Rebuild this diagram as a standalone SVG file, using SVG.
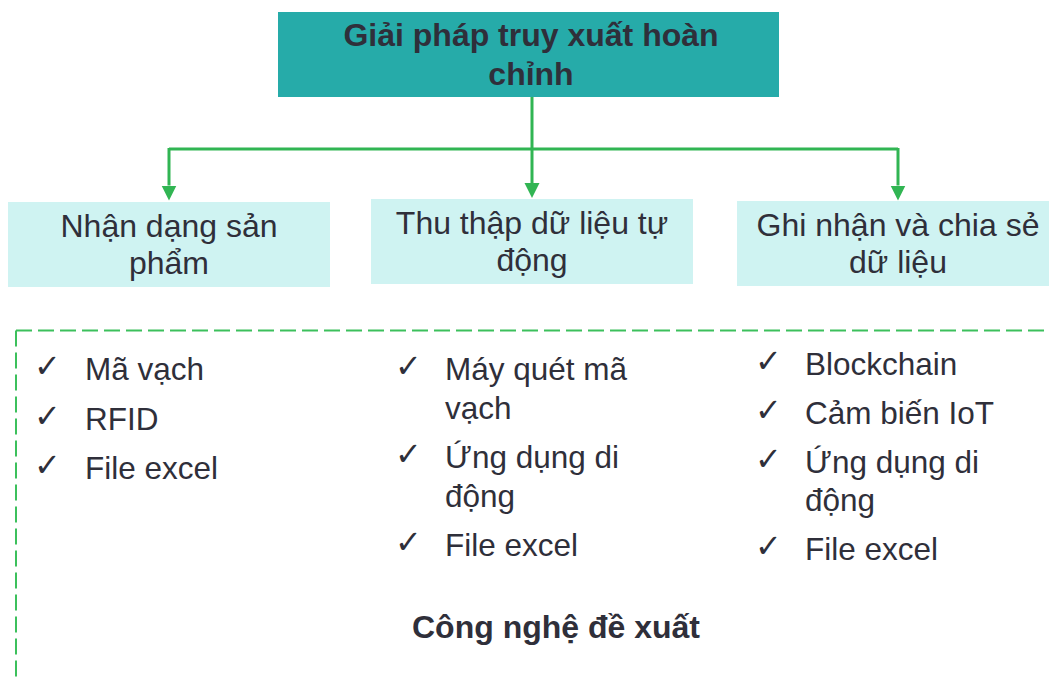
<svg xmlns="http://www.w3.org/2000/svg" width="1049" height="679" viewBox="0 0 1049 679">
  <style>
    .title { font-family: "Liberation Sans", Arial, sans-serif; font-weight: bold; font-size: 32px; fill: #2F2F3A; text-anchor: middle; }
    .lbl { font-family: "Liberation Sans", Arial, sans-serif; font-size: 32px; fill: #2F2F3A; text-anchor: middle; }
    .item { font-family: "Liberation Sans", Arial, sans-serif; font-size: 31.5px; fill: #2F2F3A; }
    .chk { font-family: "DejaVu Sans", sans-serif; font-size: 32px; fill: #2F2F3A; }
    .sub { fill: #CFF3F2; }
    .conn { fill: none; stroke: #31B553; stroke-width: 3; }
    .dash { fill: none; stroke: #3CC05C; stroke-width: 2; stroke-dasharray: 16 6; }
  </style>
  <defs>
    <marker id="ah" markerUnits="userSpaceOnUse" markerWidth="16" markerHeight="16" refX="0" refY="7.5" orient="auto">
      <path d="M0,0 L15,7.5 L0,15 z" fill="#31B553"/>
    </marker>
  </defs>

  <rect width="1049" height="679" fill="#FFFFFF"/>

  <g id="connectors">
    <path class="conn" d="M532,97 V183" marker-end="url(#ah)"/>
    <path class="conn" d="M169,149 H898"/>
    <path class="conn" d="M169,148 V185.5" marker-end="url(#ah)"/>
    <path class="conn" d="M898,148 V185.5" marker-end="url(#ah)"/>
  </g>

  <g id="root">
    <rect x="278" y="12" width="501" height="85" fill="#26ABA9"/>
    <text class="title" x="531" y="46">Giải pháp truy xuất hoàn</text>
    <text class="title" x="531" y="85">chỉnh</text>
  </g>

  <g id="node-nhan-dang">
    <rect class="sub" x="8" y="202" width="322" height="85"/>
    <text class="lbl" x="169" y="237">Nhận dạng sản</text>
    <text class="lbl" x="169" y="274">phẩm</text>
  </g>

  <g id="node-thu-thap">
    <rect class="sub" x="371" y="199" width="322" height="85"/>
    <text class="lbl" x="532" y="234">Thu thập dữ liệu tự</text>
    <text class="lbl" x="532" y="271">động</text>
  </g>

  <g id="node-ghi-nhan">
    <rect class="sub" x="737" y="201" width="322" height="85"/>
    <text class="lbl" x="898" y="236">Ghi nhận và chia sẻ</text>
    <text class="lbl" x="898" y="273">dữ liệu</text>
  </g>

  <g id="tech-frame">
    <path class="dash" d="M16,330.5 H1049"/>
    <path class="dash" d="M16,330.5 V679"/>
  </g>

  <g id="list-left">
    <text class="chk" x="34" y="377">✓</text>
    <text class="item" x="85" y="380">Mã vạch</text>
    <text class="chk" x="34" y="426.5">✓</text>
    <text class="item" x="85" y="429.5">RFID</text>
    <text class="chk" x="34" y="476">✓</text>
    <text class="item" x="85" y="479">File excel</text>
  </g>

  <g id="list-middle">
    <text class="chk" x="395" y="377">✓</text>
    <text class="item" x="445" y="380">Máy quét mã</text>
    <text class="item" x="445" y="419">vạch</text>
    <text class="chk" x="395" y="465">✓</text>
    <text class="item" x="445" y="468">Ứng dụng di</text>
    <text class="item" x="445" y="507">động</text>
    <text class="chk" x="395" y="553">✓</text>
    <text class="item" x="445" y="556">File excel</text>
  </g>

  <g id="list-right">
    <text class="chk" x="755" y="372">✓</text>
    <text class="item" x="805" y="375">Blockchain</text>
    <text class="chk" x="755" y="421">✓</text>
    <text class="item" x="805" y="424">Cảm biến IoT</text>
    <text class="chk" x="755" y="470">✓</text>
    <text class="item" x="805" y="473">Ứng dụng di</text>
    <text class="item" x="805" y="511">động</text>
    <text class="chk" x="755" y="557">✓</text>
    <text class="item" x="805" y="560">File excel</text>
  </g>

  <g id="footer">
    <text class="title" x="556" y="638">Công nghệ đề xuất</text>
  </g>
</svg>
